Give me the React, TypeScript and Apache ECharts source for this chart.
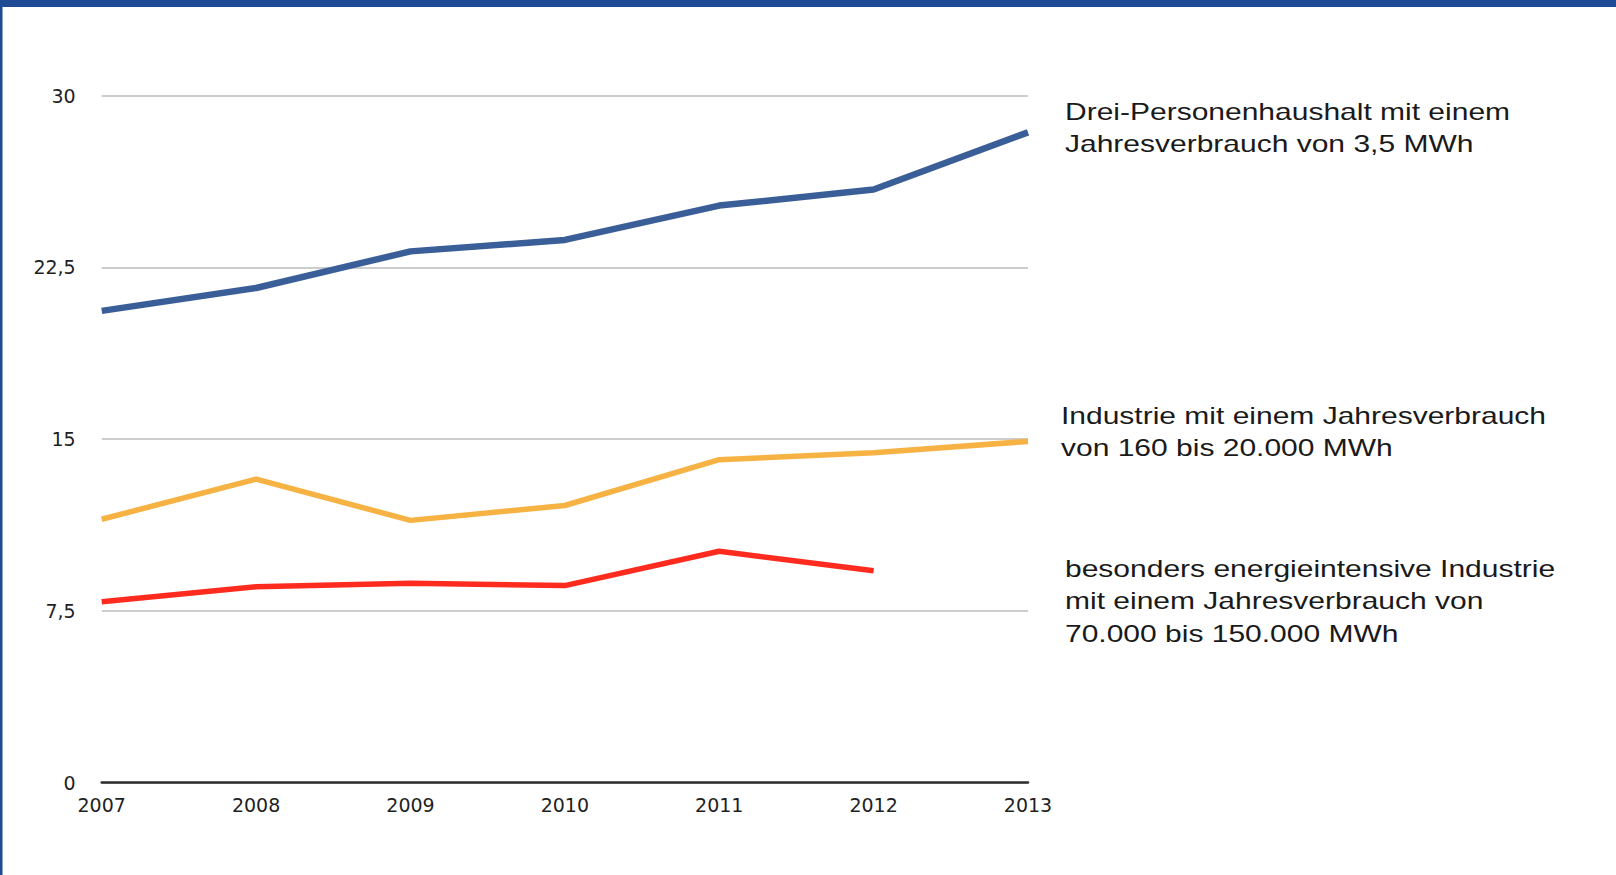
import React, { useEffect, useRef } from "react";
import * as echarts from "echarts";

const years = ["2007", "2008", "2009", "2010", "2011", "2012", "2013"];
const household = [20.6, 21.6, 23.2, 23.7, 25.2, 25.9, 28.4];
const industry = [11.5, 13.25, 11.45, 12.1, 14.1, 14.4, 14.9];
const intensive: (number | null)[] = [7.9, 8.55, 8.7, 8.6, 10.1, 9.25, null];

const yMin = 0;
const yMax = 30;
const yStep = 7.5;

const labelHousehold = "Drei-Personenhaushalt mit einem\nJahresverbrauch von 3,5 MWh";
const labelIndustry = "Industrie mit einem Jahresverbrauch\nvon 160 bis 20.000 MWh";
const labelIntensive =
  "besonders energieintensive Industrie\nmit einem Jahresverbrauch von\n70.000 bis 150.000 MWh";

const BLUE = "#3a5f98";
const ORANGE = "#f7b244";
const RED = "#ff2b1e";

export default function App() {
  const ref = useRef<HTMLDivElement>(null);

  useEffect(() => {
    if (!ref.current) return;
    const chart = echarts.init(ref.current, undefined, { renderer: "svg" });

    const legendText = (text: string, x: number, y: number) => ({
      type: "text",
      x,
      y,
      scaleX: 1.25,
      z: 10,
      style: {
        text,
        fill: "#1a1a1a",
        fontFamily: "Liberation Sans, Arial, sans-serif",
        fontSize: 24,
        lineHeight: 32.5,
        verticalAlign: "top",
        align: "left",
      },
    });

    const axisFont = {
      color: "#1f1f1f",
      fontFamily: "DejaVu Sans, sans-serif",
      fontSize: 19,
      fontWeight: "normal" as const,
    };

    chart.setOption({
      animation: false,
      backgroundColor: "#ffffff",
      grid: { left: 101.7, right: 588, top: 95.7, bottom: 92.5, containLabel: false },
      xAxis: {
        type: "category",
        data: years,
        boundaryGap: false,
        axisTick: { show: false },
        axisLine: { show: true, lineStyle: { color: "#2e2e2e", width: 2.5 } },
        axisLabel: { ...axisFont, margin: 13 },
        splitLine: { show: false },
      },
      yAxis: {
        type: "value",
        min: yMin,
        max: yMax,
        interval: yStep,
        axisLine: { show: false },
        axisTick: { show: false },
        axisLabel: {
          ...axisFont,
          margin: 26,
          formatter: (v: number) => String(v).replace(".", ","),
        },
        splitLine: { show: true, lineStyle: { color: "#bcbcbc", width: 1.5 } },
      },
      series: [
        {
          name: "Drei-Personenhaushalt",
          type: "line",
          data: household,
          symbol: "none",
          lineStyle: { color: BLUE, width: 6.5 },
          itemStyle: { color: BLUE },
        },
        {
          name: "Industrie",
          type: "line",
          data: industry,
          symbol: "none",
          lineStyle: { color: ORANGE, width: 5.5 },
          itemStyle: { color: ORANGE },
        },
        {
          name: "energieintensive Industrie",
          type: "line",
          data: intensive,
          symbol: "none",
          lineStyle: { color: RED, width: 5.5 },
          itemStyle: { color: RED },
        },
      ],
      graphic: [
        { type: "rect", shape: { x: 0, y: 0, width: 1616, height: 7 }, style: { fill: "#1f4a96" }, z: 20 },
        { type: "rect", shape: { x: 0, y: 0, width: 2.5, height: 875 }, style: { fill: "#1f4a96" }, z: 20 },
        legendText(labelHousehold, 1065, 95),
        legendText(labelIndustry, 1061, 399),
        legendText(labelIntensive, 1065, 552),
      ],
    });

    return () => chart.dispose();
  }, []);

  return (
    <div
      ref={ref}
      style={{ position: "fixed", left: 0, top: 0, width: 1616, height: 875 }}
    />
  );
}
